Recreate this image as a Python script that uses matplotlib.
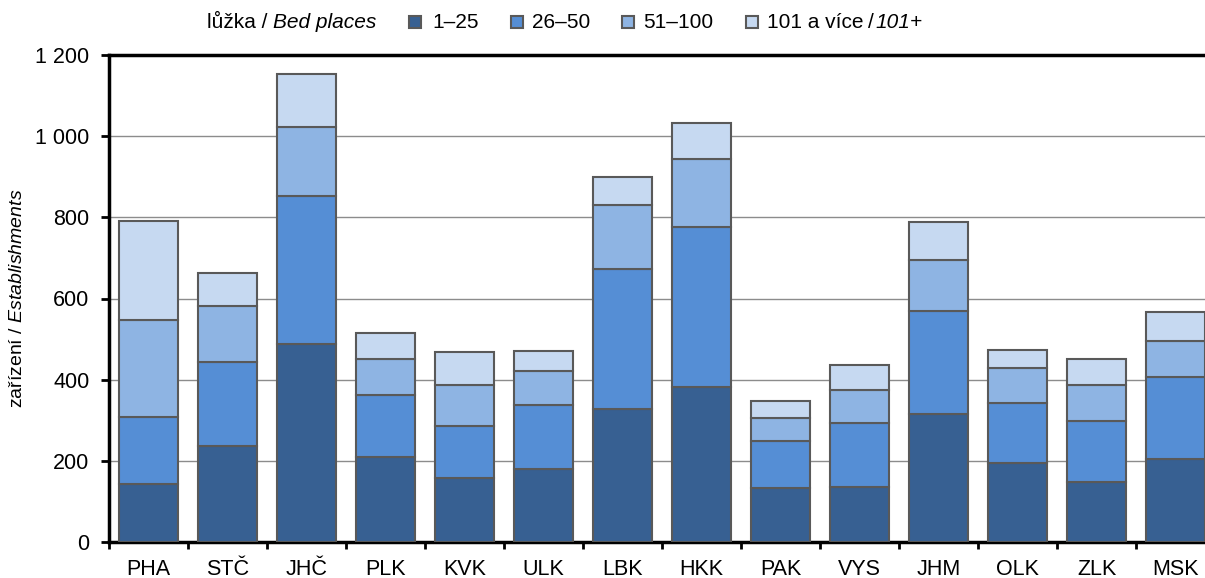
import numpy as np
import matplotlib
matplotlib.use("Agg")
import matplotlib.pyplot as plt
from matplotlib.patches import Rectangle
from matplotlib.ticker import FixedLocator, FuncFormatter

regions = ["PHA", "STČ", "JHČ", "PLK", "KVK", "ULK", "LBK",
           "HKK", "PAK", "VYS", "JHM", "OLK", "ZLK", "MSK"]
# establishments by number of bed places
beds_1_25 = [142, 236, 487, 209, 158, 181, 328, 382, 134, 135, 315, 194, 149, 205]
beds_26_50 = [165, 207, 366, 153, 128, 157, 345, 395, 115, 159, 255, 148, 150, 202]
beds_51_100 = [240, 139, 170, 90, 101, 83, 157, 166, 57, 81, 126, 86, 89, 88]
beds_101 = [244, 82, 131, 64, 82, 50, 70, 90, 42, 60, 93, 44, 62, 72]

series = [beds_1_25, beds_26_50, beds_51_100, beds_101]
labels = ["1–25", "26–50", "51–100", "101 a více"]
colors = ["#376092", "#558ED5", "#8EB4E3", "#C6D9F1"]

FS = 15.5
LFS = 15
plt.rcParams["font.family"] = ["Liberation Sans", "DejaVu Sans"]
plt.rcParams["font.size"] = FS
plt.rcParams["mathtext.fontset"] = "custom"
plt.rcParams["mathtext.rm"] = "Liberation Sans"
plt.rcParams["mathtext.it"] = "Liberation Sans:italic"

W, H = 1205, 578
fig = plt.figure(figsize=(W / 100, H / 100), dpi=100)
ax = fig.add_axes([109 / W, 36 / H, 1106 / W, 487 / H])

x = np.arange(len(regions))
bottom = np.zeros(len(regions))
for vals, lab, col in zip(series, labels, colors):
    ax.bar(x, vals, 0.75, bottom=bottom, color=col, edgecolor="#595959",
           linewidth=1.5, label=lab, zorder=3)
    bottom += np.array(vals)

ax.set_xlim(-0.5, len(regions) - 0.5)
ax.set_ylim(0, 1200)
ax.set_yticks(np.arange(0, 1201, 200))
ax.yaxis.set_major_formatter(FuncFormatter(lambda v, p: f"{int(v):,}".replace(",", " ")))
ax.grid(axis="y", color="#8c8c8c", linewidth=1, zorder=0)

ax.set_xticks(x)
ax.set_xticklabels(regions)
ax.xaxis.set_minor_locator(FixedLocator(np.arange(-0.5, len(regions), 1)))
ax.tick_params(axis="x", which="major", length=0, pad=12)
ax.tick_params(axis="x", which="minor", length=5, width=2, direction="out")
ax.tick_params(axis="y", length=6, width=2, direction="out", pad=8)

for side in ["left", "bottom", "top"]:
    ax.spines[side].set_linewidth(2.5)
    ax.spines[side].set_color("black")
ax.spines["right"].set_visible(False)

ax.set_ylabel("zařízení / $\\it{Establishments}$", fontsize=14)
ax.yaxis.set_label_coords(-(109 - 26) / 1106, 0.5)

# legend row drawn by hand so the mixed upright/italic labels line up
base = 1 - 28 / H
t1 = fig.text(207 / W, base, "lůžka / ", ha="left", va="baseline", fontsize=LFS)
box_x = [409, 511, 622, 746]
text_x = [432, 532, 643, 767]
for bx, tx, col, lab in zip(box_x, text_x, colors, labels):
    fig.patches.append(Rectangle((bx / W, 1 - 28 / H), 12 / W, 12 / H,
                                 transform=fig.transFigure, facecolor=col,
                                 edgecolor="#595959", linewidth=1.5))
    last = fig.text(tx / W, base, lab, ha="left", va="baseline", fontsize=LFS)

fig.canvas.draw()
r = fig.canvas.get_renderer()
bb1 = t1.get_window_extent(r)
fig.text(bb1.x1 / W, base, "Bed places", ha="left", va="baseline",
         fontsize=LFS, style="italic")
bb = last.get_window_extent(r)
t2 = fig.text(bb.x1 / W + 5 / W, base, "/", ha="left", va="baseline", fontsize=LFS)
fig.canvas.draw()
bb2 = t2.get_window_extent(r)
fig.text(bb2.x1 / W + 1 / W, base, "101+", ha="left", va="baseline",
         fontsize=LFS, style="italic")

fig.savefig("out.png", dpi=100)
